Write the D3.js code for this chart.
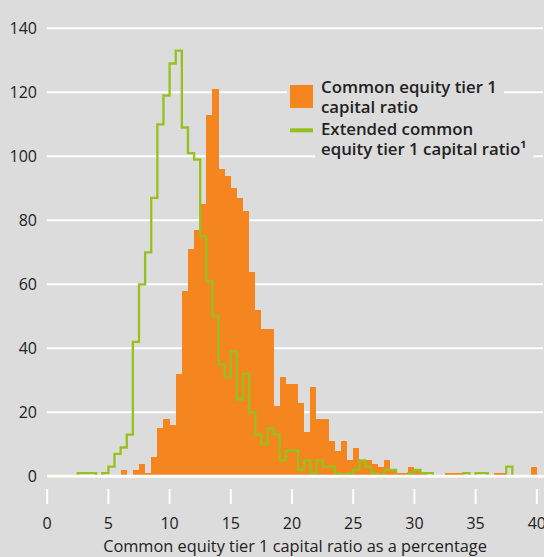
<!DOCTYPE html>
<html><head><meta charset="utf-8">
<script src="https://cdn.jsdelivr.net/npm/d3@7"></script>
<style>
html,body{margin:0;padding:0;background:#dcdcdc;}
svg{display:block;}
text{font-family:"Open Sans",sans-serif;fill:#222;}
</style></head><body>
<svg id="c" width="544" height="557"></svg>
<script>
// ---- data ----
const binWidth = 0.5;
const binStarts = d3.range(0, 40, binWidth); // 80 bins, 0.0 .. 39.5
const cet1Counts = [
  0,0,0,0,0,0,0,0,0,0,0,0,          // 0.0 - 5.5
  2,0,2,4,1,6,15,18,16,32,          // 6.0 - 10.5
  58,71,77,85,113,121,96,94,90,87,  // 11.0 - 15.5
  83,64,52,46,46,22,31,29,29,23,    // 16.0 - 20.5
  14,28,18,18,11,8,11,5,9,5,        // 21.0 - 25.5
  5,4,3,5,2,1,1,3,2,1,              // 26.0 - 30.5
  0,0,0,1,1,1,0,0,0,0,              // 31.0 - 35.5
  0,1,1,0,0,0,0,3                   // 36.0 - 39.5
];
const extCet1Counts = [
  0,0,0,0,0,1,1,1,0,1,3,7,          // 0.0 - 5.5
  9,13,42,60,70,87,110,119,129,133, // 6.0 - 10.5
  109,101,99,75,61,50,35,31,39,24,  // 11.0 - 15.5
  32,20,13,10,15,13,5,8,8,2,        // 16.0 - 20.5
  5,1,5,3,3,1,0,1,2,5,              // 21.0 - 25.5
  3,1,0,2,2,0,0,1,2,1,              // 26.0 - 30.5
  1,0,0,0,0,0,1,0,1,1,              // 31.0 - 35.5
  0,0,0,3,0,0,0,0                   // 36.0 - 39.5
];
const xTicks = [0,5,10,15,20,25,30,35,40];
const yTicks = [0,20,40,60,80,100,120,140];
const legendItems = [
  ["Common equity tier 1", "capital ratio"],
  ["Extended common", "equity tier 1 capital ratio\u00B9"]
];
const xTitle = "Common equity tier 1 capital ratio as a percentage";

// ---- styles ----
const ORANGE = "#f5861f", GREEN = "#95c11f", BG = "#dcdcdc";
const svg = d3.select("#c");
const x = d3.scaleLinear().domain([0,40]).range([47.2,536.8]);
const y = d3.scaleLinear().domain([0,140]).range([476.3,28.3]);

function fitSize(str, target, weight){
  const t = svg.append("text").attr("font-size",20).attr("font-weight",weight).text(str);
  const w = t.node().getComputedTextLength(); t.remove();
  return 20*target/w;
}

// gridlines
svg.append("g").selectAll("line").data(yTicks.filter(d=>d>0)).join("line")
  .attr("x1",47).attr("x2",543).attr("y1",d=>y(d)).attr("y2",d=>y(d))
  .attr("stroke","#fff").attr("stroke-width",2);

// bars
const bins = binStarts.map((s,i)=>({s, c:cet1Counts[i], e:extCet1Counts[i]}));
svg.append("g").selectAll("rect").data(bins.filter(d=>d.c>0)).join("rect")
  .attr("x",d=>x(d.s)).attr("width",d=>x(d.s+binWidth)-x(d.s))
  .attr("y",d=>y(d.c)).attr("height",d=>y(0)-y(d.c))
  .attr("fill",ORANGE).attr("shape-rendering","crispEdges");

// step line
const pts = bins.map(d=>[d.s,d.e]).concat([[40, 0]]);
svg.append("path").datum(pts)
  .attr("d", d3.line().x(d=>x(d[0])).y(d=>y(d[1])).curve(d3.curveStepAfter))
  .attr("fill","none").attr("stroke",GREEN).attr("stroke-width",2.3)
  .attr("stroke-linejoin","miter");

// baseline
svg.append("line").attr("x1",47).attr("x2",544).attr("y1",y(0)).attr("y2",y(0))
  .attr("stroke","#fff").attr("stroke-width",3);

// x ticks
svg.append("g").selectAll("line").data(xTicks).join("line")
  .attr("x1",d=>x(d)).attr("x2",d=>x(d)).attr("y1",489).attr("y2",504)
  .attr("stroke","#fff").attr("stroke-width",2);
svg.append("g").selectAll("text").data(xTicks).join("text")
  .attr("x",d=>x(d)).attr("y",529).attr("text-anchor","middle")
  .attr("font-size",16).text(d=>d);

// y labels
svg.append("g").selectAll("text").data(yTicks).join("text")
  .attr("x",37).attr("y",d=>y(d)+5.8).attr("text-anchor","end")
  .attr("font-size",16).text(d=>d);

// x title
const tSize = fitSize(xTitle, 384, 400);
svg.append("text").attr("x",295).attr("y",551.5).attr("text-anchor","middle")
  .attr("font-size",tSize).text(xTitle);

// legend
const lg = svg.append("g");
const lSize = fitSize(legendItems[0][0], 176, 600);
const itemY = [92.7, 134.8];
const lineGap = 20.5;
const bgG = lg.append("g"), fgG = lg.append("g");
// symbol backgrounds
bgG.append("rect").attr("x",287).attr("y",82).attr("width",30).attr("height",29).attr("fill",BG);
bgG.append("rect").attr("x",287).attr("y",125).attr("width",30).attr("height",10).attr("fill",BG);
fgG.append("rect").attr("x",290).attr("y",85).attr("width",23).attr("height",23).attr("fill",ORANGE);
fgG.append("line").attr("x1",290).attr("x2",313).attr("y1",130.3).attr("y2",130.3)
  .attr("stroke",GREEN).attr("stroke-width",4);
legendItems.forEach((lines,i)=>{
  const t = fgG.append("text").attr("x",321).attr("y",itemY[i])
    .attr("font-size",lSize).attr("font-weight",600);
  lines.forEach((str,j)=>{
    const ts = t.append("tspan").attr("x",321).attr("y",itemY[i]+j*lineGap).text(str);
    const b = ts.node().getBBox();
    bgG.append("rect").attr("x",b.x-6).attr("y",b.y).attr("width",b.width+13)
      .attr("height",b.height).attr("fill",BG);
  });
});
</script>
</body></html>
